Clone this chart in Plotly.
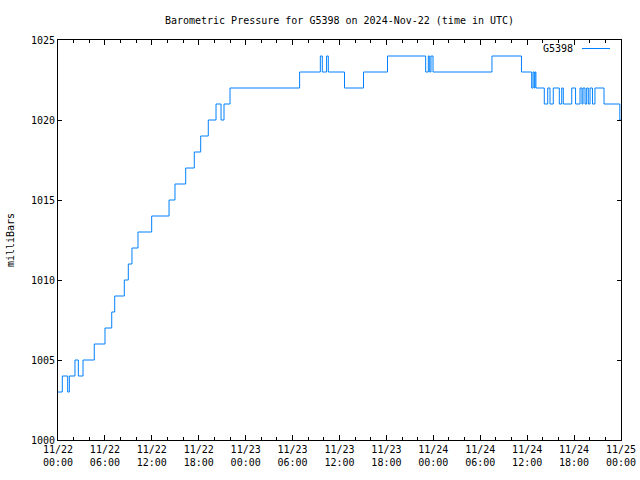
import plotly.graph_objects as go
import pandas as pd

# Hours since 2024-11-22 00:00 UTC at which the reading changes
hours = [0.0, 0.55, 1.24, 1.45, 2.17, 2.6, 3.2, 4.64, 6.01, 6.87,
         7.25, 8.48, 8.99, 9.46, 10.23, 11.98, 14.2, 14.96, 16.33, 17.43,
         18.25, 19.22, 20.21, 20.85, 21.23, 22.0, 30.9, 33.55, 33.8, 34.35,
         34.57, 36.64, 39.07, 42.14, 47.02, 47.36, 47.54, 47.7, 47.96, 55.5,
         59.27, 60.58, 60.75, 60.91, 61.0, 61.12, 62.19, 62.63, 62.92, 63.34,
         64.11, 64.42, 64.62, 65.7, 66.19, 66.76, 67.01, 67.14, 67.4, 67.61,
         67.82, 68.04, 68.35, 68.67, 69.83, 71.85, 72.0]
pressure_mb = [1003, 1004, 1003, 1004, 1005, 1004, 1005, 1006, 1007, 1008,
               1009, 1010, 1011, 1012, 1013, 1014, 1015, 1016, 1017, 1018,
               1019, 1020, 1021, 1020, 1021, 1022, 1023, 1024, 1023, 1024,
               1023, 1022, 1023, 1024, 1023, 1024, 1023, 1024, 1023, 1024,
               1023, 1022, 1023, 1022, 1023, 1022, 1021, 1022, 1021, 1022,
               1021, 1022, 1021, 1022, 1021, 1022, 1021, 1022, 1021, 1022,
               1021, 1022, 1021, 1022, 1021, 1020, 1020]

x_tick_hours = list(range(0, 73, 6))
x_tick_labels = ["11/22<br>00:00", "11/22<br>06:00", "11/22<br>12:00", "11/22<br>18:00",
                 "11/23<br>00:00", "11/23<br>06:00", "11/23<br>12:00", "11/23<br>18:00",
                 "11/24<br>00:00", "11/24<br>06:00", "11/24<br>12:00", "11/24<br>18:00",
                 "11/25<br>00:00"]
y_ticks = [1000, 1005, 1010, 1015, 1020, 1025]
series_name = "G5398"

base = pd.Timestamp("2024-11-22 00:00")
times = [base + pd.Timedelta(hours=h) for h in hours]
tick_times = [base + pd.Timedelta(hours=h) for h in x_tick_hours]
minor_times = [base + pd.Timedelta(hours=h) for h in range(0, 73, 2)]

FONT = "DejaVu Sans Mono"

fig = go.Figure()
fig.add_trace(go.Scatter(
    x=times, y=pressure_mb, mode="lines", name=series_name,
    line=dict(color="#0080ff", width=1, shape="hv"), showlegend=False,
))

fig.update_layout(
    width=640, height=480,
    margin=dict(l=58, r=19, t=40, b=40),
    paper_bgcolor="white", plot_bgcolor="white",
    font=dict(family=FONT, size=10, color="black"),
    title=dict(text="Barometric Pressure for G5398 on 2024-Nov-22 (time in UTC)",
               x=0.5, xref="paper", xanchor="center",
               y=1 - 20 / 480, yref="container", yanchor="middle",
               font=dict(family=FONT, size=10, color="black")),
    xaxis=dict(
        type="date", range=[tick_times[0], tick_times[-1]], automargin=False,
        tickmode="array", tickvals=tick_times, ticktext=x_tick_labels,
        ticks="inside", ticklen=5, tickcolor="black", tickwidth=1,
        showline=True, linecolor="black", linewidth=1, mirror="allticks",
        showgrid=False, zeroline=False,
        tickfont=dict(family=FONT, size=10, color="black"),
        minor=dict(tickmode="array", tickvals=minor_times, ticks="inside",
                   ticklen=3, tickcolor="black", showgrid=False),
    ),
    yaxis=dict(
        range=[1000, 1025], tickmode="array", tickvals=y_ticks, automargin=False,
        ticks="inside", ticklen=4, tickcolor="black",
        showline=True, linecolor="black", linewidth=1, mirror="allticks",
        showgrid=False, zeroline=False,
        tickfont=dict(family=FONT, size=10, color="black"),
        title=dict(text="milliBars", font=dict(family=FONT, size=10, color="black"),
                   standoff=14),
    ),
)

fig.add_annotation(text=series_name, xref="paper", yref="paper",
                   x=(575 - 58) / 563, y=1 - (49 - 40) / 400,
                   xanchor="right", yanchor="middle", showarrow=False,
                   font=dict(family=FONT, size=10, color="black"))
fig.add_shape(type="line", xref="paper", yref="paper",
              x0=(582 - 58) / 563, x1=(610 - 58) / 563,
              y0=1 - (48.5 - 40) / 400, y1=1 - (48.5 - 40) / 400,
              line=dict(color="#0080ff", width=1))

fig.write_html("out.html")
